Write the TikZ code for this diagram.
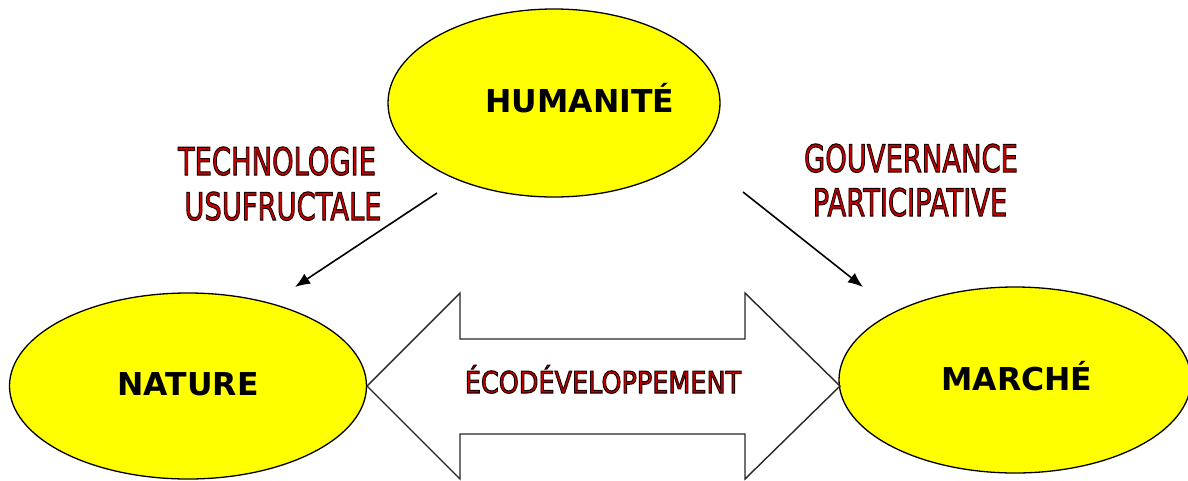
\documentclass[tikz,border=0pt]{standalone}
\usepackage{fontspec}
\setmainfont{DejaVu Sans}
\usetikzlibrary{shapes.geometric,arrows.meta}
\definecolor{ellyellow}{RGB}{255,255,0}
\definecolor{labred}{RGB}{200,0,0}
\newcommand{\outl}[1]{\special{pdf:literal direct 0.1 0 0 RG 2 Tr 1.1 w}#1\special{pdf:literal direct 0 Tr}}
\tikzset{
  ell/.style={ellipse, draw=black, line width=1.3pt, fill=ellyellow, inner sep=0pt},
  elltext/.style={font=\fontsize{31.5}{31.5}\selectfont\bfseries, text=black, inner sep=0pt, anchor=base},
  redtext/.style={font=\fontsize{38}{38}\selectfont, text=labred, inner sep=0pt, anchor=base},
  link/.style={line width=1.6pt, -{Latex[length=15pt,width=12pt]}},
  bigarrow/.style={draw=black!85, line width=1.4pt, fill=white, line join=miter}
}
\begin{document}
\begin{tikzpicture}[x=1pt,y=-1pt]
\useasboundingbox (0,0) rectangle (1188,480);
% ellipses
\node[ell, minimum width=332pt, minimum height=188pt] (hum) at (554,103) {};
\node[ell, minimum width=357pt, minimum height=186pt] (nat) at (188,386) {};
\node[ell, minimum width=352pt, minimum height=186pt] (mar) at (1015,380) {};
% ellipse texts
\node[elltext] (thum) at (580,112) {HUMANITÉ};
\node[elltext] (tnat) at (188,395) {NATURE};
\node[elltext] (tmar) at (1017,390) {MARCHÉ};
% double arrow
\coordinate (ltip) at (367,386);
\coordinate (rtip) at (840,386);
\path[bigarrow] (ltip) -- (460,293) -- (460,339) -- (745,339) -- (745,293) -- (rtip)
  -- (745,479) -- (745,434) -- (460,434) -- (460,479) -- cycle;
\node[redtext, font=\fontsize{30}{30}\selectfont] (eco) at (603,393) {\scalebox{0.85}[1]{\outl{ÉCODÉVELOPPEMENT}}};
% connectors
\coordinate (a1) at (437,193);
\coordinate (a2) at (295,287);
\coordinate (b1) at (743,192);
\coordinate (b2) at (863,287);
\draw[link] (a1) -- (a2);
\draw[link] (b1) -- (b2);
% labels
\node[redtext] (tech) at (277,175) {\scalebox{0.72}[1]{\outl{TECHNOLOGIE}}};
\node[redtext] (usu) at (283,220) {\scalebox{0.72}[1]{\outl{USUFRUCTALE}}};
\node[redtext] (gouv) at (911,172) {\scalebox{0.72}[1]{\outl{GOUVERNANCE}}};
\node[redtext] (part) at (910,216) {\scalebox{0.72}[1]{\outl{PARTICIPATIVE}}};
\end{tikzpicture}
\end{document}
